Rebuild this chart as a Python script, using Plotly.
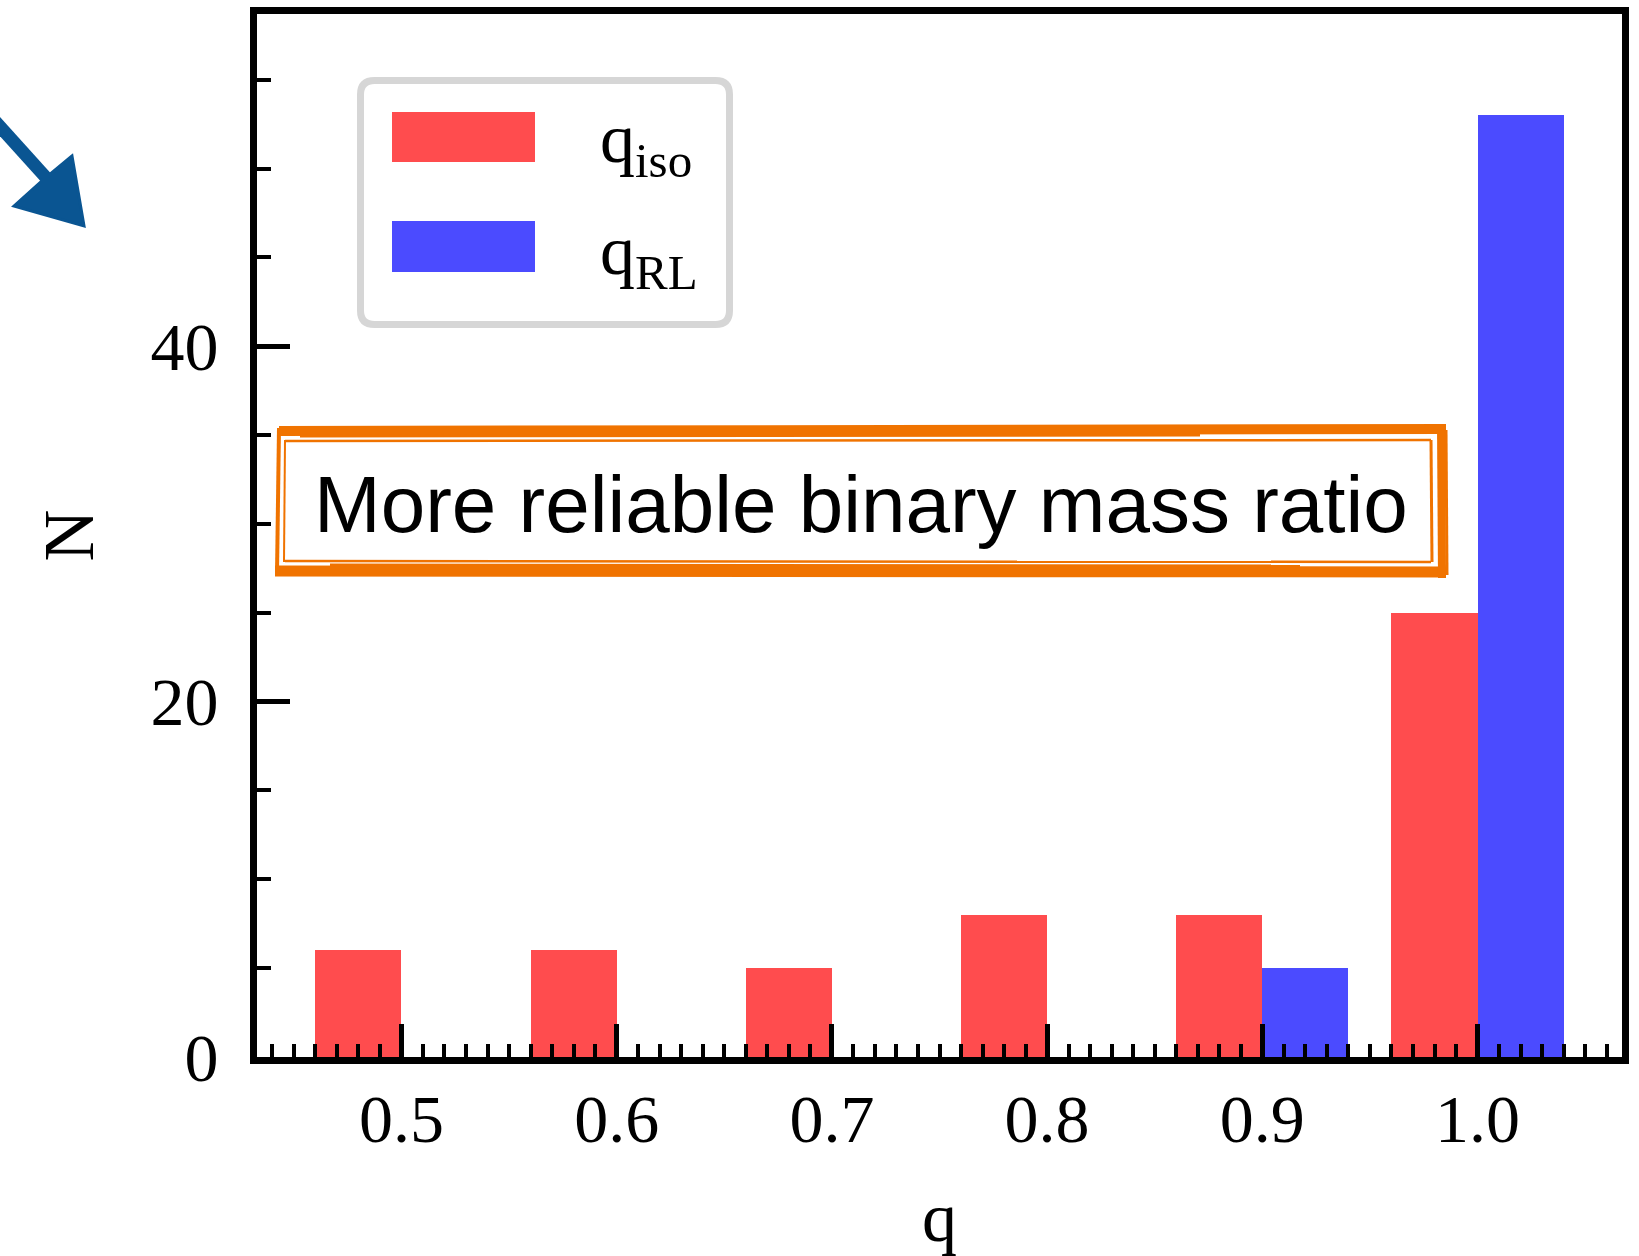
import plotly.graph_objects as go

# ---- data ----
q_bins = [0.5, 0.6, 0.7, 0.8, 0.9, 1.0]
n_iso = [6, 6, 5, 8, 8, 25]
n_rl = [0, 0, 0, 0, 5, 53]
x_tick_labels = ["0.5", "0.6", "0.7", "0.8", "0.9", "1.0"]
y_tick_vals = [0, 20, 40]
legend_labels = ["q<sub>iso</sub>", "q<sub>RL</sub>"]
note_text = "More reliable binary mass ratio"

RED = "#FF4C4E"
BLUE = "#4B4BFF"
ORANGE = "#F07300"
ARROW = "#0A5592"
SERIF = "Liberation Serif, Times New Roman, serif"
SANS = "Liberation Sans, Arial, Helvetica, sans-serif"

W, H = 1639, 1256
L, R, T, B = 257, 1622, 14, 1057
PW, PH = R - L, B - T


def px(x):
    return (x - L) / PW


def py(y):
    return (B - y) / PH


fig = go.Figure()
fig.add_trace(go.Bar(x=q_bins, y=n_iso, width=0.04, offset=-0.04,
                     marker=dict(color=RED, line=dict(width=0)), name=legend_labels[0],
                     showlegend=False))
fig.add_trace(go.Bar(x=q_bins, y=n_rl, width=0.04, offset=0.0,
                     marker=dict(color=BLUE, line=dict(width=0)), name=legend_labels[1],
                     showlegend=False))

shapes = []
# custom legend
lx0, ly0, lx1, ly1, r = 360.5, 80.5, 729.5, 324.5, 14
path = (f"M {px(lx0 + r)},{py(ly0)} L {px(lx1 - r)},{py(ly0)} "
        f"Q {px(lx1)},{py(ly0)} {px(lx1)},{py(ly0 + r)} "
        f"L {px(lx1)},{py(ly1 - r)} Q {px(lx1)},{py(ly1)} {px(lx1 - r)},{py(ly1)} "
        f"L {px(lx0 + r)},{py(ly1)} Q {px(lx0)},{py(ly1)} {px(lx0)},{py(ly1 - r)} "
        f"L {px(lx0)},{py(ly0 + r)} Q {px(lx0)},{py(ly0)} {px(lx0 + r)},{py(ly0)} Z")
shapes.append(dict(type="path", xref="paper", yref="paper", path=path,
                   line=dict(color="#D6D6D6", width=7), fillcolor="white", layer="above"))
for (y0, y1), col in zip([(112, 162), (221, 272)], [RED, BLUE]):
    shapes.append(dict(type="rect", xref="paper", yref="paper",
                       x0=px(392), x1=px(535), y0=py(y1), y1=py(y0),
                       line=dict(width=0), fillcolor=col, layer="above"))

# sketchy orange box
def seg(x0, y0, x1, y1, w):
    return dict(type="line", xref="paper", yref="paper", x0=px(x0), y0=py(y0),
                x1=px(x1), y1=py(y1), line=dict(color=ORANGE, width=w), layer="above")

shapes.append(dict(type="rect", xref="paper", yref="paper", x0=px(279), x1=px(1444),
                   y0=py(572), y1=py(428), line=dict(width=0), fillcolor="white", layer="above"))
shapes += [
    seg(279, 431, 1446, 429, 10),
    seg(300, 436, 1200, 435, 3),
    seg(275, 571, 1446, 572, 11),
    seg(330, 565, 1300, 566, 3),
    seg(1441, 425, 1442, 578, 8),
    seg(1446, 430, 1447, 575, 3),
    seg(279, 428, 277, 574, 4),
    seg(285, 441, 1431, 440, 2.5),
    seg(285, 561, 1431, 562, 2.5),
    seg(285, 440, 284, 562, 2),
    seg(1431, 440, 1432, 562, 3),
]

# hand-drawn arrow (top left)
shapes.append(dict(type="line", xref="paper", yref="paper", x0=px(-15), y0=py(110),
                   x1=px(50), y1=py(182), line=dict(color=ARROW, width=13)))
shapes.append(dict(type="path", xref="paper", yref="paper",
                   path=(f"M {px(14)},{py(206)} Q {px(42)},{py(180)} {px(72)},{py(156)} "
                         f"L {px(84)},{py(226)} Z"),
                   line=dict(color=ARROW, width=3), fillcolor=ARROW))

annotations = [
    dict(xref="paper", yref="paper", x=px(598), y=py(144), xanchor="left", yanchor="middle",
         text=legend_labels[0], showarrow=False, font=dict(family=SERIF, size=70, color="black")),
    dict(xref="paper", yref="paper", x=px(598), y=py(256), xanchor="left", yanchor="middle",
         text=legend_labels[1], showarrow=False, font=dict(family=SERIF, size=70, color="black")),
    dict(xref="paper", yref="paper", x=px(861), y=py(504), xanchor="center", yanchor="middle",
         text=note_text, showarrow=False, font=dict(family=SANS, size=80, color="black")),
]

fig.update_layout(
    width=W, height=H,
    margin=dict(l=L, r=W - R, t=T, b=H - B, autoexpand=False),
    paper_bgcolor="white", plot_bgcolor="white",
    barmode="overlay", bargap=0,
    showlegend=False,
    shapes=shapes, annotations=annotations,
    font=dict(family=SERIF, color="black"),
)
fig.update_xaxes(
    range=[0.4329, 1.0671], tickvals=q_bins, ticktext=x_tick_labels,
    showline=True, linecolor="black", linewidth=7, mirror=True,
    ticks="inside", ticklen=33, tickwidth=5, tickcolor="black",
    minor=dict(dtick=0.01, tick0=0, ticks="inside", ticklen=13, tickwidth=3.5, tickcolor="black"),
    showgrid=False, zeroline=False,
    tickfont=dict(family=SERIF, size=68, color="black"), ticklabelstandoff=-4,
    title=dict(text="q", font=dict(family=SERIF, size=70, color="black"), standoff=78),
)
fig.update_yaxes(
    range=[0, 58.7], tickvals=y_tick_vals,
    showline=True, linecolor="black", linewidth=7, mirror=True,
    ticks="inside", ticklen=33, tickwidth=5, tickcolor="black",
    minor=dict(dtick=5, tick0=0, ticks="inside", ticklen=14, tickwidth=4, tickcolor="black"),
    showgrid=False, zeroline=False,
    tickfont=dict(family=SERIF, size=68, color="black"), ticklabelstandoff=18,
    title=dict(text="N", font=dict(family=SERIF, size=72, color="black"), standoff=36),
)

fig.write_html("out.html", config={"displayModeBar": False},
               post_script="document.body.style.margin='0px';document.body.style.overflow='hidden';")
